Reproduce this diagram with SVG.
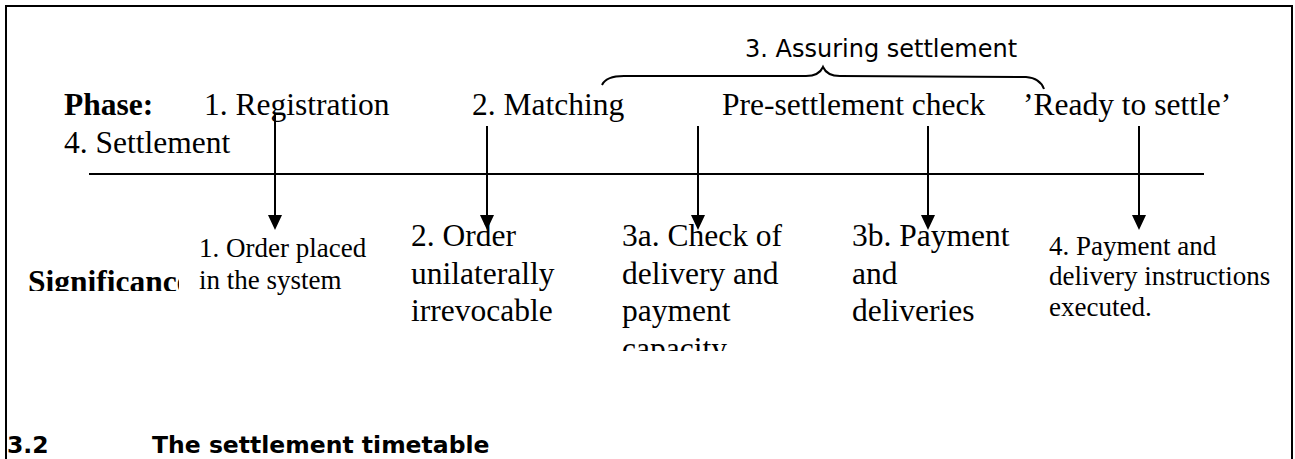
<svg xmlns="http://www.w3.org/2000/svg" width="1295" height="459" viewBox="0 0 1295 459">
  <style>
    .serif { font-family: "Liberation Serif", "Times New Roman", serif; fill: #000; }
    .big { font-size: 31.5px; }
    .small { font-size: 27px; }
    .bold { font-weight: bold; }
    .sans { font-family: "DejaVu Sans", Verdana, sans-serif; fill: #000; }
    .rule { stroke: #000; stroke-width: 2; fill: none; }
    .arrow { stroke: #000; stroke-width: 2; fill: none; marker-end: url(#head); }
  </style>
  <defs>
    <!-- filled arrowhead, 15 long and 14 wide; tip sits 8px past the line end -->
    <marker id="head" viewBox="0 0 15 14" refX="7" refY="7" markerWidth="15" markerHeight="14" markerUnits="userSpaceOnUse" orient="auto">
      <path d="M0,0 L15,7 L0,14 Z" fill="#000"/>
    </marker>
    <clipPath id="clipSig"><rect x="0" y="240" width="179" height="51"/></clipPath>
    <clipPath id="clipCap"><rect x="600" y="220" width="230" height="131"/></clipPath>
  </defs>

  <rect width="1295" height="459" fill="#fff"/>

  <!-- frame (open at the bottom) -->
  <path class="rule" d="M6,459 L6,6 L1292,6 L1292,459"/>

  <!-- time axis -->
  <line class="rule" x1="89" y1="174" x2="1204" y2="174"/>

  <!-- phase row -->
  <g id="phase-label">
    <text class="serif big bold" x="64" y="115">Phase:</text>
  </g>
  <g id="phase-registration">
    <text class="serif big" x="204" y="115">1. Registration</text>
  </g>
  <g id="phase-matching">
    <text class="serif big" x="472" y="115">2. Matching</text>
  </g>
  <g id="phase-presettlement">
    <text class="serif big" x="722" y="115">Pre-settlement check</text>
  </g>
  <g id="phase-ready">
    <text class="serif big" x="1023" y="115">’Ready to settle’</text>
  </g>
  <g id="phase-settlement">
    <text class="serif big" x="64" y="153">4. Settlement</text>
  </g>

  <!-- brace grouping the assuring-settlement stage -->
  <g id="assuring-settlement">
    <text class="sans" font-size="24" x="745" y="57">3. Assuring settlement</text>
    <path class="rule" stroke-width="1.8" d="M602,85 Q606,76 624,76 L806,76 Q819,76 823,67 Q827,76 840,76 L1026,77 Q1040,78 1044,89"/>
  </g>

  <!-- significance row -->
  <g id="significance-label" clip-path="url(#clipSig)">
    <text class="serif big bold" x="28" y="292">Significance:</text>
  </g>
  <g id="sig-order-placed">
    <text class="serif small" x="199" y="257">1. Order placed</text>
    <text class="serif small" x="199" y="289">in the system</text>
  </g>
  <g id="sig-irrevocable">
    <text class="serif big" x="411" y="246">2. Order</text>
    <text class="serif big" x="411" y="284">unilaterally</text>
    <text class="serif big" x="411" y="321">irrevocable</text>
  </g>
  <g id="sig-check" clip-path="url(#clipCap)">
    <text class="serif big" x="622" y="246">3a. Check of</text>
    <text class="serif big" x="622" y="284">delivery and</text>
    <text class="serif big" x="622" y="321">payment</text>
    <text class="serif big" x="622" y="358.5">capacity</text>
  </g>
  <g id="sig-payment">
    <text class="serif big" x="852" y="246">3b. Payment</text>
    <text class="serif big" x="852" y="284">and</text>
    <text class="serif big" x="852" y="321">deliveries</text>
  </g>
  <g id="sig-executed">
    <text class="serif small" x="1049" y="255">4. Payment and</text>
    <text class="serif small" x="1049" y="285">delivery instructions</text>
    <text class="serif small" x="1049" y="316">executed.</text>
  </g>

  <!-- connectors from phases down to their significance -->
  <g id="connectors">
    <line class="arrow" x1="275" y1="113" x2="275" y2="222"/>
    <line class="arrow" x1="487" y1="126" x2="487" y2="222"/>
    <line class="arrow" x1="698" y1="126" x2="698" y2="222"/>
    <line class="arrow" x1="928" y1="126" x2="928" y2="222"/>
    <line class="arrow" x1="1139" y1="126" x2="1139" y2="222"/>
  </g>

  <!-- section heading below the figure -->
  <g id="heading">
    <text class="sans" font-weight="bold" font-size="23.5" x="7" y="453">3.2</text>
    <text class="sans" font-weight="bold" font-size="23.5" x="152" y="453">The settlement timetable</text>
  </g>
</svg>
